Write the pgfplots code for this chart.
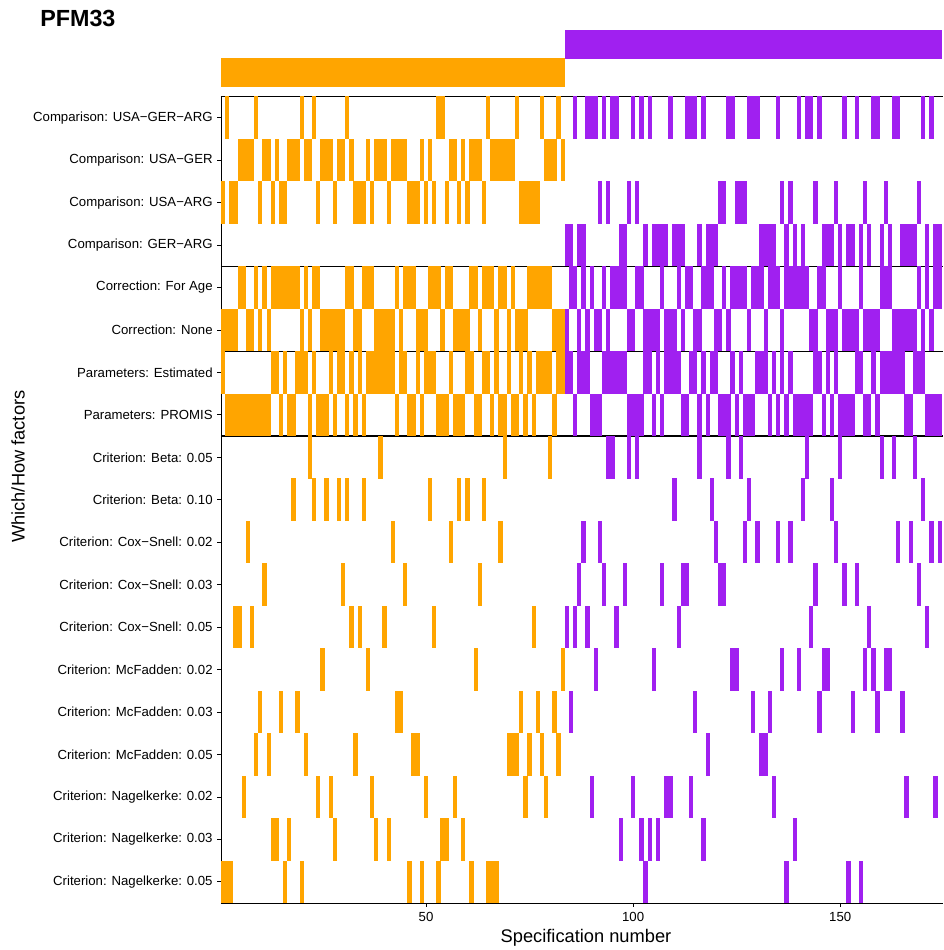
\documentclass[border=0pt]{standalone}
\usepackage{fontspec}
\setmainfont{Liberation Sans}
\usepackage{pgfplots}
\usepackage{pgfplotstable}
\pgfplotsset{compat=1.18}
\definecolor{orR}{RGB}{255,165,0}
\definecolor{puR}{RGB}{160,32,240}
\pgfdeclareplotmark{tileM}{\pgfpathrectangle{\pgfqpoint{-1.6pt}{-15.95pt}}{\pgfqpoint{3.2pt}{31.9pt}}\pgfusepathqfill}
\pgfdeclareplotmark{tileT}{\pgfpathrectangle{\pgfqpoint{-1.6pt}{-10.7pt}}{\pgfqpoint{3.2pt}{21.4pt}}\pgfusepathqfill}
% rows: 1 USA-GER-ARG, 2 USA-GER, 3 USA-ARG, 4 GER-ARG, 5 For Age, 6 None,
% 7 Estimated, 8 PROMIS, 9 Beta .05, 10 Beta .10, 11 CS .02, 12 CS .03, 13 CS .05,
% 14 McF .02, 15 McF .03, 16 McF .05, 17 Nag .02, 18 Nag .03, 19 Nag .05
\pgfplotstableread{
n comp corr par crit top
1 3 6 7 19 1
2 1 6 8 19 1
3 3 6 8 19 1
4 3 6 8 13 1
5 2 5 8 13 1
6 2 5 8 17 1
7 2 6 8 11 1
8 2 6 8 13 1
9 1 5 8 16 1
10 3 6 8 15 1
11 2 5 8 12 1
12 2 6 8 16 1
13 3 5 7 18 1
14 2 5 7 18 1
15 3 5 8 15 1
16 3 5 7 19 1
17 2 5 8 18 1
18 2 5 8 10 1
19 2 5 7 15 1
20 1 6 7 19 1
21 2 5 7 16 1
22 2 6 8 9 1
23 1 5 7 10 1
24 3 5 8 17 1
25 2 6 8 14 1
26 2 6 8 10 1
27 2 6 7 17 1
28 3 6 8 18 1
29 2 6 7 10 1
30 2 6 7 12 1
31 1 5 8 10 1
32 2 5 7 13 1
33 3 6 8 16 1
34 3 6 7 13 1
35 3 5 8 10 1
36 2 5 7 14 1
37 3 5 7 17 1
38 2 6 7 18 1
39 2 6 7 9 1
40 2 6 7 13 1
41 3 6 7 18 1
42 2 6 7 11 1
43 2 5 8 15 1
44 2 6 7 15 1
45 2 5 7 12 1
46 3 5 8 19 1
47 3 5 8 16 1
48 3 6 7 16 1
49 2 6 8 19 1
50 3 6 7 17 1
51 2 5 7 10 1
52 3 5 7 13 1
53 1 5 8 19 1
54 1 6 8 18 1
55 3 5 8 18 1
56 2 5 7 11 1
57 2 6 8 17 1
58 3 6 8 10 1
59 2 6 8 18 1
60 3 6 7 10 1
61 2 5 7 19 1
62 2 5 8 14 1
63 2 6 8 12 1
64 3 5 7 10 1
65 1 5 7 19 1
66 2 5 8 19 1
67 2 6 7 19 1
68 2 5 8 11 1
69 2 5 8 9 1
70 2 6 7 16 1
71 2 5 8 16 1
72 1 6 8 16 1
73 3 6 7 15 1
74 3 6 8 17 1
75 3 5 7 16 1
76 3 5 8 13 1
77 3 5 7 15 1
78 1 5 7 16 1
79 2 5 7 17 1
80 2 5 7 9 1
81 2 6 8 15 1
82 1 6 7 16 1
83 2 6 7 14 1
84 4 6 7 13 2
85 4 5 7 15 2
86 1 5 8 13 2
87 4 6 7 12 2
88 4 5 7 11 2
89 1 6 7 13 2
90 1 5 8 17 2
91 1 6 8 14 2
92 3 6 8 11 2
93 1 5 7 12 2
94 3 6 7 9 2
95 1 5 7 9 2
96 1 5 7 13 2
97 4 5 7 18 2
98 4 5 7 12 2
99 3 6 8 9 2
100 1 6 8 17 2
101 3 5 8 9 2
102 1 5 8 18 2
103 4 6 7 19 2
104 1 6 7 18 2
105 4 6 8 14 2
106 4 6 7 18 2
107 4 5 8 12 2
108 4 6 7 17 2
109 1 6 7 17 2
110 4 6 7 10 2
111 4 5 7 13 2
112 4 6 8 12 2
113 1 5 8 12 2
114 1 5 7 17 2
115 1 6 7 15 2
116 4 6 8 9 2
117 1 5 7 18 2
118 4 5 8 16 2
119 4 5 7 10 2
120 4 6 7 11 2
121 3 6 8 12 2
122 3 5 8 12 2
123 1 6 8 9 2
124 1 5 7 14 2
125 3 5 8 14 2
126 3 5 7 9 2
127 3 5 8 11 2
128 1 6 8 10 2
129 1 5 8 15 2
130 1 5 7 11 2
131 4 5 7 16 2
132 4 6 7 16 2
133 4 5 8 15 2
134 4 5 7 17 2
135 1 5 8 11 2
136 3 6 7 14 2
137 4 5 8 19 2
138 3 5 7 11 2
139 4 5 8 18 2
140 1 5 8 14 2
141 4 5 8 10 2
142 1 5 8 9 2
143 1 6 8 13 2
144 3 6 7 12 2
145 1 5 7 15 2
146 4 5 8 14 2
147 4 6 7 14 2
148 4 6 8 10 2
149 3 6 7 11 2
150 4 5 8 9 2
151 1 6 8 12 2
152 4 6 8 19 2
153 4 6 8 15 2
154 1 6 7 12 2
155 4 5 7 19 2
156 3 6 8 14 2
157 4 6 8 13 2
158 1 6 7 14 2
159 1 6 8 15 2
160 4 5 7 9 2
161 3 5 7 14 2
162 4 5 7 14 2
163 1 6 7 9 2
164 1 6 7 11 2
165 4 6 7 15 2
166 4 6 8 17 2
167 4 6 8 11 2
168 4 6 7 9 2
169 3 5 7 12 2
170 1 6 7 10 2
171 4 5 8 13 2
172 1 6 8 11 2
173 4 5 8 17 2
174 4 5 8 11 2
175 4 6 8 16 2
176 4 6 8 18 2
}\specs
\begin{document}
\begin{tikzpicture}
\path[use as bounding box] (0pt,0pt) rectangle (707.25pt,-712.5pt);
% top indicator panel
\begin{axis}[
  at={(165.75pt,-65.25pt)}, anchor=south west,
  scale only axis, width=541.5pt, height=42.75pt,
  xmin=0.5, xmax=174.81, ymin=0.5, ymax=2.5,
  hide axis, clip=true,
]
\addplot[only marks, mark=tileT, orR, restrict x to domain=0:83.5] table[x=n, y=top] {\specs};
\addplot[only marks, mark=tileT, puR, restrict x to domain=83.5:177] table[x=n, y=top] {\specs};
\end{axis}
% main tile panel
\begin{axis}[
  at={(165.75pt,-677.25pt)}, anchor=south west,
  scale only axis, width=541.5pt, height=604.875pt,
  xmin=0.5, xmax=174.81, ymin=0.5, ymax=19.5,
  axis x line*=bottom, axis y line*=left,
  axis line style={black, line width=0.55pt, -},
  xtick={50,100,150}, xticklabels={50,100,150},
  ytick={1,...,19},
  yticklabels={
    {Criterion: Nagelkerke: 0.05},
    {Criterion: Nagelkerke: 0.03},
    {Criterion: Nagelkerke: 0.02},
    {Criterion: McFadden: 0.05},
    {Criterion: McFadden: 0.03},
    {Criterion: McFadden: 0.02},
    {Criterion: Cox−Snell: 0.05},
    {Criterion: Cox−Snell: 0.03},
    {Criterion: Cox−Snell: 0.02},
    {Criterion: Beta: 0.10},
    {Criterion: Beta: 0.05},
    {Parameters: PROMIS},
    {Parameters: Estimated},
    {Correction: None},
    {Correction: For Age},
    {Comparison: GER−ARG},
    {Comparison: USA−ARG},
    {Comparison: USA−GER},
    {Comparison: USA−GER−ARG}},
  tick align=outside, major tick length=2.75pt,
  tick style={black, line width=0.55pt},
  tick label style={font=\fontsize{9.9}{11}\selectfont, text=black},
  x tick label style={yshift=-1pt},
  extra y ticks={11.5,13.5,15.5,19.5}, extra y tick labels={},
  extra y tick style={grid=major, major grid style={black, line width=1pt}, major tick length=0pt},
  axis on top, clip=true,
]
\addplot[only marks, mark=tileM, orR, restrict x to domain=0:83.5] table[x=n, y expr=20-\thisrow{comp}] {\specs};
\addplot[only marks, mark=tileM, orR, restrict x to domain=0:83.5] table[x=n, y expr=20-\thisrow{corr}] {\specs};
\addplot[only marks, mark=tileM, orR, restrict x to domain=0:83.5] table[x=n, y expr=20-\thisrow{par}] {\specs};
\addplot[only marks, mark=tileM, orR, restrict x to domain=0:83.5] table[x=n, y expr=20-\thisrow{crit}] {\specs};
\addplot[only marks, mark=tileM, puR, restrict x to domain=83.5:177] table[x=n, y expr=20-\thisrow{comp}] {\specs};
\addplot[only marks, mark=tileM, puR, restrict x to domain=83.5:177] table[x=n, y expr=20-\thisrow{corr}] {\specs};
\addplot[only marks, mark=tileM, puR, restrict x to domain=83.5:177] table[x=n, y expr=20-\thisrow{par}] {\specs};
\addplot[only marks, mark=tileM, puR, restrict x to domain=83.5:177] table[x=n, y expr=20-\thisrow{crit}] {\specs};
\end{axis}
\node[anchor=west, inner sep=0pt, font=\bfseries\fontsize{17.5}{20}\selectfont] at (30pt,-13.5pt) {PFM33};
\node[rotate=90, font=\fontsize{13.7}{16}\selectfont] at (13.5pt,-350pt) {Which/How factors};
\node[font=\fontsize{13.7}{16}\selectfont] at (439.5pt,-703.5pt) {Specification number};
\end{tikzpicture}
\end{document}
